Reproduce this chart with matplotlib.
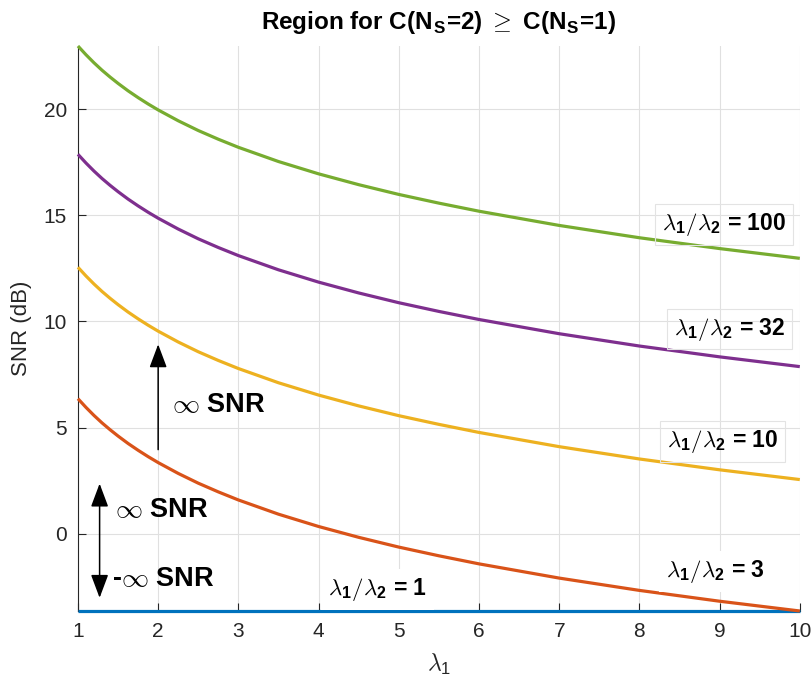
import matplotlib
matplotlib.use("Agg")
import matplotlib.pyplot as plt

plt.rcParams['font.family'] = ['Liberation Sans', 'DejaVu Sans']
plt.rcParams['mathtext.fontset'] = 'cm'

# ---- data ----
lam1 = [1, 1.1, 1.2, 1.3, 1.4, 1.5, 1.625, 1.75, 1.875, 2, 2.25, 2.5, 2.75, 3,
        3.5, 4, 4.5, 5, 5.5, 6, 7, 8, 9, 10]
snr_r1 = [-3.64] * 24
snr_r3 = [6.36, 5.95, 5.57, 5.22, 4.90, 4.60, 4.25, 3.93, 3.63, 3.35, 2.84, 2.38, 1.97, 1.59,
          0.92, 0.34, -0.17, -0.63, -1.04, -1.42, -2.09, -2.67, -3.18, -3.64]
snr_r10 = [12.55, 12.14, 11.76, 11.41, 11.09, 10.79, 10.44, 10.12, 9.82, 9.54, 9.03, 8.57, 8.16, 7.78,
           7.11, 6.53, 6.02, 5.56, 5.15, 4.77, 4.10, 3.52, 3.01, 2.55]
snr_r32 = [17.87, 17.46, 17.08, 16.73, 16.41, 16.11, 15.76, 15.44, 15.14, 14.86, 14.35, 13.89, 13.48, 13.10,
           12.43, 11.85, 11.34, 10.88, 10.47, 10.09, 9.42, 8.84, 8.33, 7.87]
snr_r100 = [22.97, 22.56, 22.18, 21.83, 21.51, 21.21, 20.86, 20.54, 20.24, 19.96, 19.45, 18.99, 18.58, 18.20,
            17.53, 16.95, 16.44, 15.98, 15.57, 15.19, 14.52, 13.94, 13.43, 12.97]

series = [snr_r1, snr_r3, snr_r10, snr_r32, snr_r100]
colors = ['#0072BD', '#D95319', '#EDB120', '#7E2F8E', '#77AC30']
ratio_labels = ['1', '3', '10', '32', '100']
label_pos = [(4.73, -2.62), (8.95, -1.78), (9.04, 4.36), (9.12, 9.64), (9.05, 14.55)]
xticks = [1, 2, 3, 4, 5, 6, 7, 8, 9, 10]
yticks = [0, 5, 10, 15, 20]

fig = plt.figure(figsize=(8.12, 6.90), dpi=100)
ax = fig.add_axes([0.096, 0.1145, 0.889, 0.8188])

for ys, c in zip(series, colors):
    ax.plot(lam1, ys, color=c, lw=2.3, clip_on=False, zorder=3,
            solid_capstyle='butt', solid_joinstyle='round')

ax.set_xlim(1, 10)
ax.set_ylim(-3.64, 22.97)
ax.set_xticks(xticks)
ax.set_yticks(yticks)
ax.grid(True, color='#e0e0e0', lw=0.8)
ax.set_axisbelow(True)
for s in ['top', 'right']:
    ax.spines[s].set_visible(False)
for s in ['left', 'bottom']:
    ax.spines[s].set_color('#262626')
    ax.spines[s].set_linewidth(0.8)
ax.tick_params(direction='in', length=6, width=0.8, colors='#262626',
               labelsize=15, pad=8)

ax.set_xlabel(r'$\lambda_{\mathregular{1}}$', fontsize=17, color='#262626', labelpad=8)
ax.set_ylabel('SNR (dB)', fontsize=16, color='#262626', labelpad=8)
ax.set_title(r'Region for C(N$_{\mathregular{S}}$=2) $\geq$ C(N$_{\mathregular{S}}$=1)',
             fontsize=17.5, fontweight='bold', pad=12)

for lab, (px, py) in zip(ratio_labels, label_pos):
    if lab in ('1', '3'):
        bb = dict(boxstyle='square,pad=0.3', fc='white', ec='none')
    else:
        bb = dict(boxstyle='square,pad=0.3', fc='none', ec='#e3e3e3', lw=0.8)
    ax.text(px, py, r'$\lambda_{\mathregular{1}}/\lambda_{\mathregular{2}}$ = ' + lab,
            fontsize=16.5, fontweight='bold', ha='center', va='center',
            bbox=bb, zorder=4)

# arrows
ax.annotate('', xy=(2.0, 8.92), xytext=(2.0, 3.96),
            arrowprops=dict(arrowstyle='-|>,head_length=0.4,head_width=0.15',
                            mutation_scale=36, lw=1.1, color='k',
                            shrinkA=0, shrinkB=0), zorder=5)
ax.annotate('', xy=(1.27, 2.36), xytext=(1.27, -3.02),
            arrowprops=dict(arrowstyle='<|-|>,head_length=0.4,head_width=0.15',
                            mutation_scale=36, lw=1.1, color='k',
                            shrinkA=0, shrinkB=0), zorder=5)

ax.text(2.17, 6.08, r'$\infty$ SNR', fontsize=19.5, fontweight='bold', ha='left', va='center')
ax.text(1.46, 1.13, r'$\infty$ SNR', fontsize=19.5, fontweight='bold', ha='left', va='center')
ax.text(1.42, -2.12, r'-$\infty$ SNR', fontsize=19.5, fontweight='bold', ha='left', va='center')

fig.savefig('out.png', dpi=100)
